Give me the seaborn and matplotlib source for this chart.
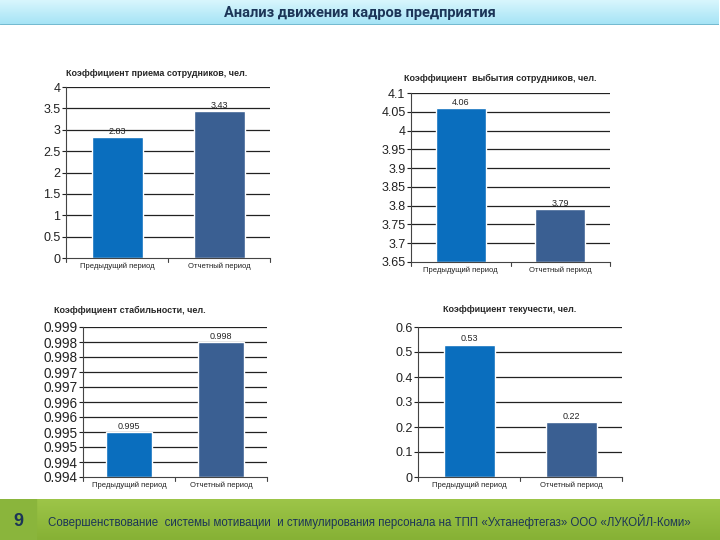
import numpy as np
import pandas as pd
import matplotlib
matplotlib.use("Agg")
import matplotlib.pyplot as plt
from matplotlib.colors import LinearSegmentedColormap
import seaborn as sns

# Данные
periods = ["Предыдущий период", "Отчетный период"]

hire_vals = [2.83, 3.43]
hire_labels = ["2.83", "3.43"]

leave_vals = [4.06, 3.79]
leave_labels = ["4.06", "3.79"]

stab_vals = [0.9955, 0.9985]
stab_labels = ["0.995", "0.998"]
stab_ticks = [0.9940, 0.9945, 0.9950, 0.9955, 0.9960, 0.9965,
              0.9970, 0.9975, 0.9980, 0.9985, 0.9990]
stab_ticklabels = ["0.994", "0.994", "0.995", "0.995", "0.996", "0.996",
                   "0.997", "0.997", "0.998", "0.998", "0.999"]

turn_vals = [0.53, 0.22]
turn_labels = ["0.53", "0.22"]

titles = ["Коэффициент приема сотрудников, чел.",
          "Коэффициент  выбытия сотрудников, чел.",
          "Коэффициент стабильности, чел.",
          "Коэффициент текучести, чел."]

header = "Анализ движения кадров предприятия"
footer = "Совершенствование  системы мотивации  и стимулирования персонала на ТПП «Ухтанефтегаз» ООО «ЛУКОЙЛ-Коми»"
page_no = "9"

bar_colors = ["#0A6EBE", "#3A5F92"]

sns.set_style("white")
plt.rcParams["font.family"] = ["Liberation Sans", "DejaVu Sans"]

W, H = 720, 540
fig = plt.figure(figsize=(7.2, 5.4), dpi=100)


def px_axes(x0, y0, x1, y1, **kw):
    # пиксели (сверху слева) -> доли фигуры
    return fig.add_axes([x0 / W, 1 - y1 / H, (x1 - x0) / W, (y1 - y0) / H], **kw)


def gradient(ax, c_top, c_bot):
    cmap = LinearSegmentedColormap.from_list("g", [c_top, c_bot])
    ax.imshow(np.linspace(0, 1, 50).reshape(-1, 1), aspect="auto", cmap=cmap,
              extent=[0, 1, 0, 1], origin="upper")
    ax.set_xlim(0, 1)
    ax.set_ylim(0, 1)
    ax.axis("off")


# Шапка
hax = px_axes(0, 0, 719, 25)
gradient(hax, "#D8F6FD", "#A4E3F5")
hax.plot([0, 1], [0.02, 0.02], color="#6FB6CC", lw=2, transform=hax.transAxes)
hax.text(0.5, 0.5, header, ha="center", va="center", fontsize=10.5,
         fontweight="bold", color="#1C3557", family=["Roboto", "DejaVu Sans"])

# Подвал
fax = px_axes(0, 499, 720, 540)
gradient(fax, "#9DC548", "#86B135")
fax.add_patch(plt.Rectangle((0, 0), 36 / 720, 1, color="#8AB53C", transform=fax.transAxes))
fax.text(18 / 720, 0.45, page_no, ha="center", va="center", fontsize=13,
         fontweight="bold", color="#1C3557")
fax.text(48 / 720, 0.45, footer, ha="left", va="center", fontsize=8.3,
         color="#1C3557")


def draw(box, vals, labels, ylim, ticks, ticklabels, title, title_y, title_x, tsize=9):
    ax = px_axes(*box)
    df = pd.DataFrame({"period": periods, "value": vals})
    sns.barplot(data=df, x="period", y="value", hue="period", palette=bar_colors,
                width=0.5, ax=ax, legend=False, saturation=1)
    # столбцы должны начинаться от нижней границы оси
    for p, v in zip(ax.patches, vals):
        p.set_y(ylim[0])
        p.set_height(v - ylim[0])
    ax.set_ylim(*ylim)
    ax.set_xlim(-0.5, 1.5)
    ax.set_yticks(ticks)
    ax.set_yticklabels(ticklabels)
    for t in ticks[1:]:
        ax.axhline(t, color="#222222", lw=0.9, zorder=0)
    ax.set_axisbelow(True)
    ax.set_xlabel("")
    ax.set_ylabel("")
    for s in ["top", "right"]:
        ax.spines[s].set_visible(False)
    for s in ["left", "bottom"]:
        ax.spines[s].set_color("#444444")
        ax.spines[s].set_linewidth(0.8)
    ax.tick_params(axis="y", labelsize=tsize, length=3, direction="out", left=True,
                   colors="#222222", pad=1)
    ax.set_xticks([0, 1])
    ax.set_xticklabels(periods, fontsize=5.5, color="#222222")
    ax.tick_params(axis="x", length=0, pad=3)
    for xb in [-0.5, 0.5, 1.5]:
        ax.plot([xb, xb], [0, -0.025], color="#444444", lw=0.8,
                transform=ax.get_xaxis_transform(), clip_on=False)
    ax.bar_label(ax.containers[0], labels=labels[:1], fontsize=6.5, padding=1)
    ax.bar_label(ax.containers[1], labels=labels[1:], fontsize=6.5, padding=1)
    fig.text(title_x / W, 1 - title_y / H, title, ha="center", va="center",
             fontsize=6.5, fontweight="bold")
    return ax


draw((66, 87, 270, 258), hire_vals, hire_labels, (0, 4),
     [0, 0.5, 1, 1.5, 2, 2.5, 3, 3.5, 4],
     ["0", "0.5", "1", "1.5", "2", "2.5", "3", "3.5", "4"],
     titles[0], 73, 157)

leave_ticks = [3.65, 3.70, 3.75, 3.80, 3.85, 3.90, 3.95, 4.00, 4.05, 4.10]
draw((411, 93, 610, 262), leave_vals, leave_labels, (3.65, 4.1),
     leave_ticks,
     ["3.65", "3.7", "3.75", "3.8", "3.85", "3.9", "3.95", "4", "4.05", "4.1"],
     titles[1], 78, 500)

draw((83, 327, 267, 477), stab_vals, stab_labels, (0.9940, 0.9990),
     stab_ticks, stab_ticklabels, titles[2], 310, 130, tsize=9.8)

draw((418, 327, 622, 477), turn_vals, turn_labels, (0, 0.6),
     [0, 0.1, 0.2, 0.3, 0.4, 0.5, 0.6],
     ["0", "0.1", "0.2", "0.3", "0.4", "0.5", "0.6"],
     titles[3], 310, 510)

fig.savefig("out.png", dpi=100)
